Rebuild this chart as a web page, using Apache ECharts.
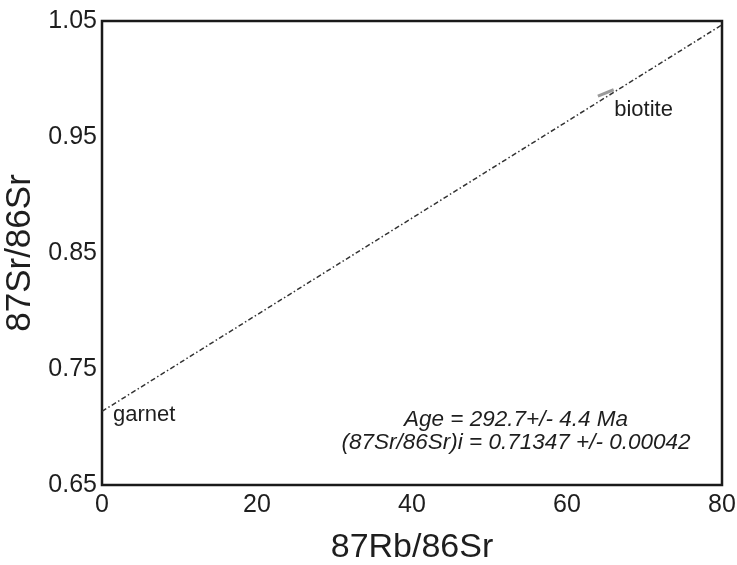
<!DOCTYPE html>
<html>
<head>
<meta charset="utf-8">
<script src="https://cdn.jsdelivr.net/npm/echarts@6/dist/echarts.min.js"></script>
<style>
  html, body { margin: 0; padding: 0; background: #fff; }
  #chart { width: 737px; height: 565px; }
</style>
</head>
<body>
<div id="chart"></div>
<script>
// mineral points (87Rb/86Sr, 87Sr/86Sr)
const sampleNames = ['garnet', 'biotite']
const rbSr = [0.0, 65.0]
const srSr = [0.7135, 0.988]

// isochron end points
const isochronX = [0, 80]
const isochronY = [0.71347, 1.0467]

const xTicks = [0, 20, 40, 60, 80]
const yTicks = [0.65, 0.75, 0.85, 0.95, 1.05]

const ageLines = ['Age = 292.7+/- 4.4 Ma', '(87Sr/86Sr)i = 0.71347 +/- 0.00042']

const font = '"Liberation Sans", Arial, sans-serif'
const textColor = '#1e1e1e'

const chart = echarts.init(document.getElementById('chart'))

const pointData = sampleNames.map((name, i) => {
  const item = { name, value: [rbSr[i], srSr[i]] }
  if (name === 'biotite') {
    item.symbol = 'rect'
    item.symbolSize = [17, 3]
    item.symbolRotate = 22
    item.itemStyle = { color: '#9a9a9a', opacity: 1 }
    item.label = { distance: 0, offset: [0, 17] }
  } else {
    item.symbolSize = 0
    item.label = { distance: 11, offset: [0, 4] }
  }
  return item
})

chart.setOption({
  animation: false,
  backgroundColor: '#fff',
  grid: {
    left: 102,
    right: 15,
    top: 21,
    bottom: 80,
    outerBoundsMode: 'none',
    containLabel: false,
    show: true,
    borderColor: '#1a1a1a',
    borderWidth: 2.5
  },
  xAxis: {
    type: 'value',
    min: xTicks[0],
    max: xTicks[xTicks.length - 1],
    interval: 20,
    name: '87Rb/86Sr',
    nameLocation: 'middle',
    nameGap: 46,
    nameTextStyle: { fontFamily: font, fontSize: 34, color: textColor },
    axisLine: { show: false },
    axisTick: { show: false },
    splitLine: { show: false },
    axisLabel: { fontFamily: font, fontSize: 25, color: textColor, margin: 8 }
  },
  yAxis: {
    type: 'value',
    min: yTicks[0],
    max: yTicks[yTicks.length - 1],
    name: '87Sr/86Sr',
    nameLocation: 'middle',
    nameGap: 60,
    nameTextStyle: { fontFamily: font, fontSize: 35, color: textColor },
    axisLine: { show: false },
    axisTick: { show: false },
    splitLine: { show: false },
    axisLabel: {
      customValues: yTicks,
      fontFamily: font,
      fontSize: 25,
      color: textColor,
      margin: 5,
      formatter: v => v.toFixed(2)
    }
  },
  series: [
    {
      type: 'line',
      data: isochronX.map((x, i) => [x, isochronY[i]]),
      symbol: 'none',
      silent: true,
      lineStyle: { color: '#333', width: 1.5, type: [5, 2.5, 1.5, 2.5] }
    },
    {
      type: 'scatter',
      data: pointData,
      itemStyle: { opacity: 1 },
      label: {
        show: true,
        position: 'right',
        formatter: '{b}',
        fontFamily: font,
        fontSize: 22,
        color: textColor
      }
    }
  ],
  graphic: ageLines.map((t, i) => ({
    type: 'text',
    x: 516,
    y: 420 + i * 23,
    style: {
      text: t,
      fontFamily: font,
      fontSize: 22.5,
      fontStyle: 'italic',
      fill: textColor,
      align: 'center',
      verticalAlign: 'middle'
    }
  }))
})
</script>
</body>
</html>
